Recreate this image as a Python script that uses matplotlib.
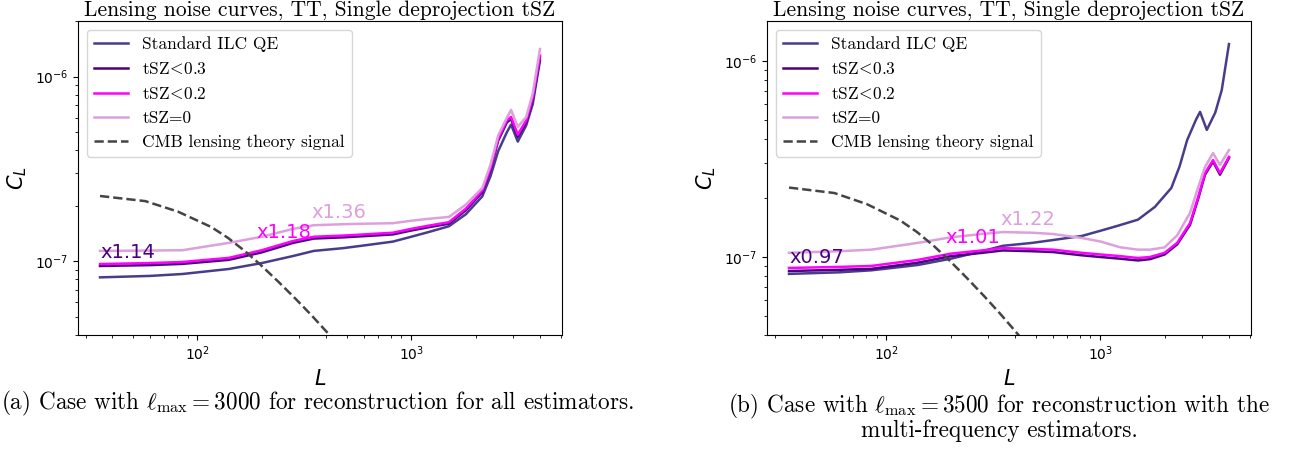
import matplotlib
matplotlib.use('Agg')
from matplotlib import pyplot as plt
from matplotlib.font_manager import FontProperties

# multipoles (lmax=3000 grid)
L_a = [35, 60, 85, 140, 200, 280, 350, 480, 600, 820, 1000, 1200, 1500, 1800,
       2150, 2350, 2550, 2800, 2930, 3150, 3450, 3700, 4000]
# standard ILC QE (same in both panels)
std_qe = [8.2e-8, 8.35e-8, 8.55e-8, 9.1e-8, 9.8e-8, 1.07e-7, 1.14e-7, 1.18e-7, 1.22e-7,
          1.28e-7, 1.36e-7, 1.44e-7, 1.55e-7, 1.8e-7, 2.25e-7, 2.9e-7, 3.95e-7, 5.0e-7,
          5.5e-7, 4.45e-7, 5.45e-7, 7.1e-7, 1.22e-6]
# panel (a)
a_tsz03 = [9.45e-8, 9.55e-8, 9.7e-8, 1.02e-7, 1.12e-7, 1.26e-7, 1.33e-7, 1.35e-7, 1.37e-7,
           1.40e-7, 1.47e-7, 1.53e-7, 1.60e-7, 1.89e-7, 2.37e-7, 3.13e-7, 4.5e-7, 5.65e-7,
           5.9e-7, 4.72e-7, 5.65e-7, 7.5e-7, 1.27e-6]
a_tsz02 = [9.68e-8, 9.8e-8, 9.93e-8, 1.045e-7, 1.15e-7, 1.29e-7, 1.36e-7, 1.38e-7, 1.40e-7,
           1.43e-7, 1.5e-7, 1.56e-7, 1.63e-7, 1.93e-7, 2.42e-7, 3.2e-7, 4.6e-7, 5.8e-7,
           6.05e-7, 4.85e-7, 5.8e-7, 7.7e-7, 1.3e-6]
a_tsz0 = [1.14e-7, 1.145e-7, 1.15e-7, 1.26e-7, 1.36e-7, 1.50e-7, 1.57e-7, 1.59e-7, 1.60e-7,
          1.61e-7, 1.66e-7, 1.70e-7, 1.74e-7, 2.03e-7, 2.5e-7, 3.35e-7, 4.8e-7, 6.0e-7,
          6.6e-7, 5.35e-7, 6.05e-7, 8.1e-7, 1.41e-6]

# panel (b), multi-frequency with lmax=3500
L_b = [35, 60, 85, 140, 200, 280, 350, 480, 600, 820, 1000, 1240, 1500, 1710, 2000,
       2290, 2630, 2870, 3090, 3370, 3630, 4000]
b_tsz03 = [8.48e-8, 8.6e-8, 8.7e-8, 9.35e-8, 1.01e-7, 1.05e-7, 1.08e-7, 1.07e-7, 1.06e-7,
           1.02e-7, 1.0e-7, 9.8e-8, 9.6e-8, 9.75e-8, 1.03e-7, 1.16e-7, 1.46e-7, 1.98e-7,
           2.63e-7, 3.07e-7, 2.63e-7, 3.2e-7]
b_tsz02 = [8.79e-8, 8.9e-8, 9.0e-8, 9.66e-8, 1.04e-7, 1.08e-7, 1.11e-7, 1.10e-7, 1.09e-7,
           1.05e-7, 1.03e-7, 1.01e-7, 9.88e-8, 1.0e-7, 1.05e-7, 1.18e-7, 1.49e-7, 2.02e-7,
           2.68e-7, 3.12e-7, 2.68e-7, 3.24e-7]
b_tsz0 = [1.05e-7, 1.07e-7, 1.09e-7, 1.18e-7, 1.26e-7, 1.31e-7, 1.34e-7, 1.33e-7, 1.31e-7,
          1.25e-7, 1.20e-7, 1.12e-7, 1.09e-7, 1.09e-7, 1.12e-7, 1.29e-7, 1.68e-7, 2.27e-7,
          2.88e-7, 3.39e-7, 2.95e-7, 3.51e-7]

# CMB lensing theory signal
L_th = [35, 57, 81, 116, 139, 167, 198, 238, 286, 340, 399, 500, 1000, 2000, 4000]
cl_th = [2.26e-7, 2.12e-7, 1.86e-7, 1.535e-7, 1.34e-7, 1.135e-7, 9.55e-8, 7.8e-8, 6.32e-8,
         5.14e-8, 4.2e-8, 3.13e-8, 1.1e-8, 3.5e-9, 1.0e-9]

labels = ['Standard ILC QE', r'tSZ$\!<\!$0.3', r'tSZ$\!<\!$0.2', 'tSZ=0']
colors = ['darkslateblue', 'indigo', 'magenta', 'plum']
ratios_a = ['x1.14', 'x1.18', 'x1.36']
ratios_b = ['x0.97', 'x1.01', 'x1.22']
title = 'Lensing noise curves, TT, Single deprojection tSZ'

serif = FontProperties(family='cmr10', size=12.5, math_fontfamily='cm')


def panel(ax, L, curves, ratios, ratio_pos, ylim):
    ax.loglog(L_a, std_qe, color=colors[0], lw=1.8, label=labels[0])
    for c, lab, col in zip(curves, labels[1:], colors[1:]):
        ax.loglog(L, c, color=col, lw=1.8, label=lab)
    ax.loglog(L_th, cl_th, '--', color='#444444', lw=1.8, label='CMB lensing theory signal')
    ax.set_xlim(27.6, 5070)
    ax.set_ylim(*ylim)
    for r, (x, y), col in zip(ratios, ratio_pos, colors[1:]):
        ax.text(x, y, r, color=col, fontsize=14)
    ax.set_xlabel('$L$', fontsize=15)
    ax.set_ylabel('$C_L$', fontsize=15)
    # title kept just inside the top edge
    ax.set_title(title, fontproperties=FontProperties(family='cmr10', size=15.5), pad=3.5)
    ax.legend(loc='upper left', prop=serif)


fig = plt.figure(figsize=(12.91, 4.5), dpi=100)
ax1 = fig.add_axes([0.0604, 0.2556, 0.3749, 0.6978])
ax2 = fig.add_axes([0.5941, 0.2556, 0.3749, 0.6978])

panel(ax1, L_a, [a_tsz03, a_tsz02, a_tsz0], ratios_a,
      [(35, 1.04e-7), (188, 1.34e-7), (340, 1.72e-7)], (4e-8, 2e-6))
panel(ax2, L_b, [b_tsz03, b_tsz02, b_tsz0], ratios_b,
      [(35, 9.3e-8), (188, 1.18e-7), (340, 1.46e-7)], (4e-8, 1.6e-6))

cap = FontProperties(family='cmr10', size=16.7, math_fontfamily='cm')
fig.text(0.246, 0.089, r'(a) Case with $\ell_{\max} = 3000$ for reconstruction for all estimators.',
         ha='center', fontproperties=cap)
fig.text(0.774, 0.084, r'(b) Case with $\ell_{\max} = 3500$ for reconstruction with the',
         ha='center', fontproperties=cap)
fig.text(0.774, 0.029, 'multi-frequency estimators.', ha='center', fontproperties=cap)

fig.savefig('out.png', dpi=100)
